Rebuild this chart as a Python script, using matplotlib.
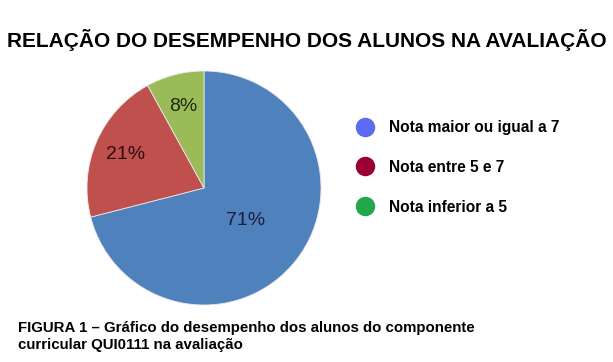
import matplotlib.pyplot as plt
import numpy as np
from matplotlib.lines import Line2D

# data
categorias = ['Nota maior ou igual a 7', 'Nota entre 5 e 7', 'Nota inferior a 5']
percentuais = [71, 21, 8]
cores_fatias = ['#4F81BD', '#C0504D', '#9BBB59']
cores_legenda = ['#5B6CF0', '#990033', '#22A84A']
cores_rotulo = ['#1C1C3C', '#2A0E0E', '#1E2A10']
dist_rotulo = [0.45, 0.73, 0.72]

plt.rcParams['font.family'] = ['Liberation Sans', 'DejaVu Sans']

fig = plt.figure(figsize=(6.13, 3.62), dpi=100)
fig.patch.set_facecolor('white')

# pie axes: centre at (204, 188) px, radius 117 px
r_px = 117
cx, cy = 204, 188
ax = fig.add_axes([(cx - r_px) / 613, 1 - (cy + r_px) / 362, 2 * r_px / 613, 2 * r_px / 362])
wedges, textos, autotextos = ax.pie(percentuais, colors=cores_fatias, startangle=90,
                                    counterclock=False, autopct='%d%%',
                                    wedgeprops=dict(edgecolor='#E8E8E8', linewidth=0.6),
                                    textprops=dict(fontsize=14))
for w, t, d, c in zip(wedges, autotextos, dist_rotulo, cores_rotulo):
    ang = np.deg2rad((w.theta1 + w.theta2) / 2)
    t.set_position((d * np.cos(ang), d * np.sin(ang)))
    t.set_color(c)
ax.set_xlim(-1, 1)
ax.set_ylim(-1, 1)
ax.set_aspect('equal')
ax.axis('off')

# title
fig.text((8 + 605) / 2 / 613, 1 - 40 / 362, 'RELAÇÃO DO DESEMPENHO DOS ALUNOS NA AVALIAÇÃO',
         ha='center', va='center', fontsize=15, fontweight='bold')

# legend
handles = [Line2D([], [], linestyle='none', marker='o', markersize=13,
                  markerfacecolor=c, markeredgecolor=c) for c in cores_legenda]
leg = fig.legend(handles, categorias, loc='upper left', bbox_to_anchor=(335 / 613, 1 - 106 / 362),
                 frameon=False, labelspacing=1.6, handletextpad=0.6,
                 prop=dict(size=11.2, weight='bold'))

# caption
fig.text(18 / 613, 1 - 321 / 362,
         'FIGURA 1 – Gráfico do desempenho dos alunos do componente\ncurricular QUI0111 na avaliação',
         ha='left', va='top', fontsize=10.8, fontweight='bold', linespacing=1.3)

fig.savefig('out.png', dpi=100, facecolor='white')
